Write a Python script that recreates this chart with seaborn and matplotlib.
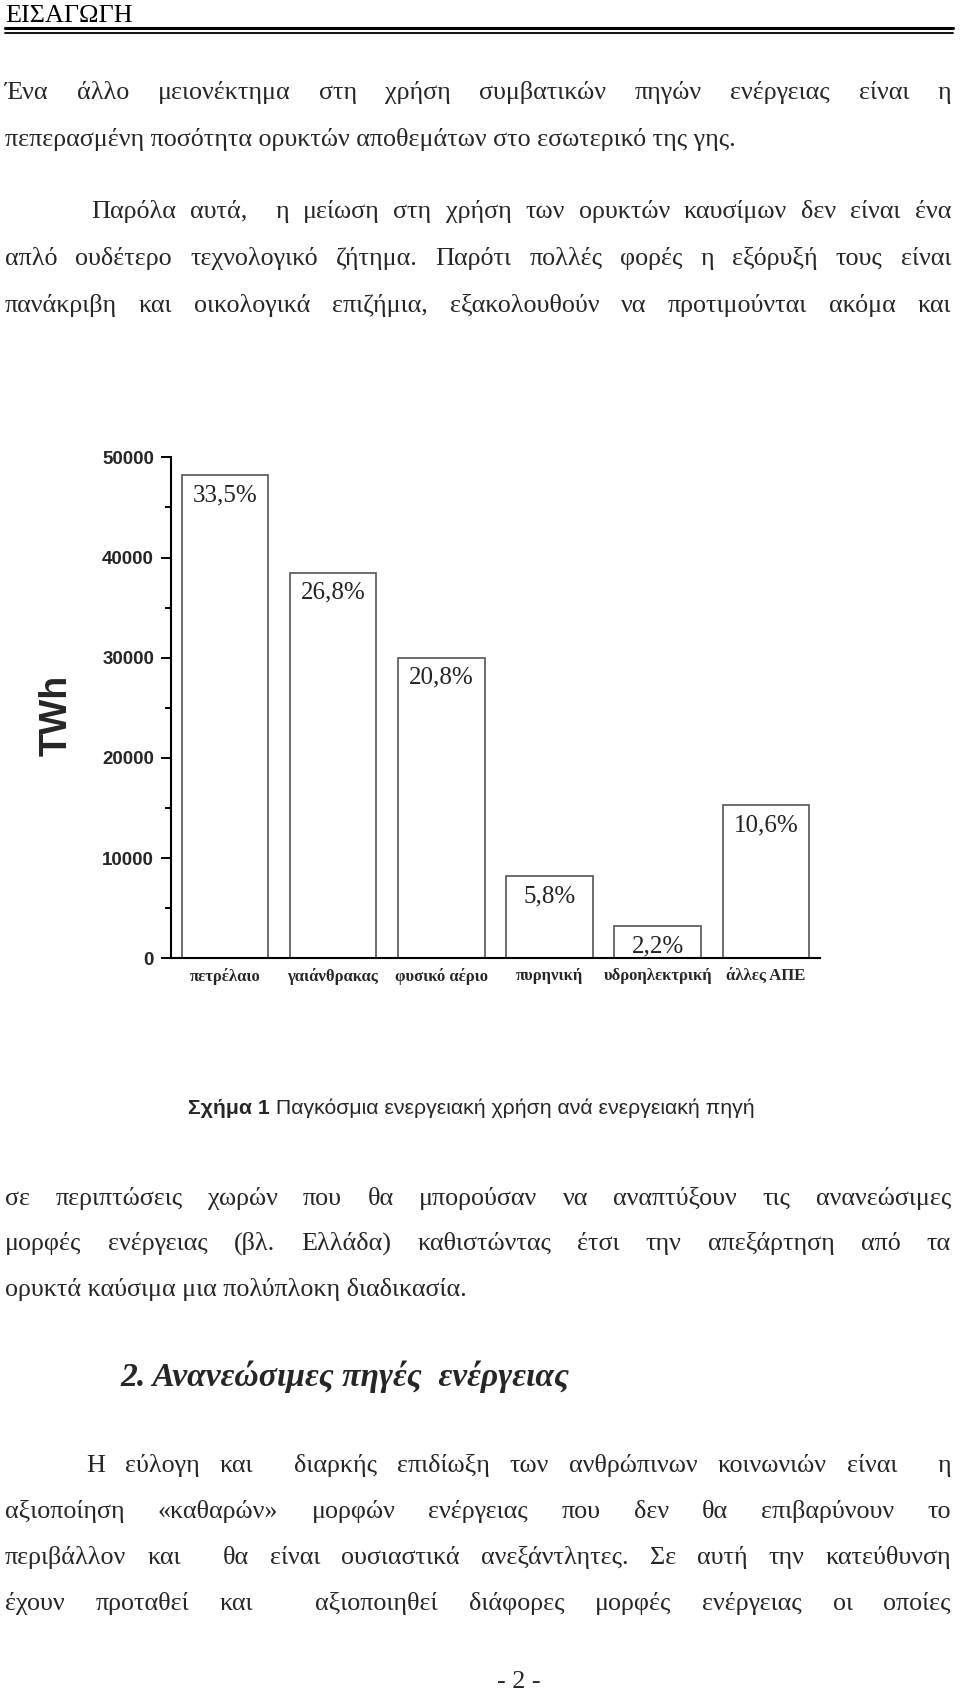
import matplotlib
matplotlib.use('Agg')
import matplotlib.pyplot as plt
import seaborn as sns
from matplotlib import font_manager
from matplotlib.lines import Line2D
from matplotlib.ticker import MultipleLocator

# chart data
sources = ['πετρέλαιο', 'γαιάνθρακας', 'φυσικό αέριο', 'πυρηνική', 'υδροηλεκτρική', 'άλλες ΑΠΕ']
twh = [48200, 38500, 30000, 8200, 3200, 15300]
shares = ['33,5%', '26,8%', '20,8%', '5,8%', '2,2%', '10,6%']
y_ticks = [0, 10000, 20000, 30000, 40000, 50000]

# page text
header = 'ΕΙΣΑΓΩΓΗ'
lines_top = [
    'Ένα άλλο μειονέκτημα στη χρήση συμβατικών πηγών ενέργειας είναι η',
    'πεπερασμένη ποσότητα ορυκτών αποθεμάτων στο εσωτερικό της γης.',
    'Παρόλα αυτά,  η μείωση στη χρήση των ορυκτών καυσίμων δεν είναι ένα',
    'απλό ουδέτερο τεχνολογικό ζήτημα. Παρότι πολλές φορές η εξόρυξή τους είναι',
    'πανάκριβη και οικολογικά επιζήμια, εξακολουθούν να προτιμούνται ακόμα και',
]
caption_bold = 'Σχήμα 1'
caption_rest = ' Παγκόσμια ενεργειακή χρήση ανά ενεργειακή πηγή'
lines_mid = [
    'σε περιπτώσεις χωρών που θα μπορούσαν να αναπτύξουν τις ανανεώσιμες',
    'μορφές ενέργειας (βλ. Ελλάδα) καθιστώντας έτσι την απεξάρτηση από τα',
    'ορυκτά καύσιμα μια πολύπλοκη διαδικασία.',
]
heading = '2. Ανανεώσιμες πηγές  ενέργειας'
lines_bottom = [
    'Η εύλογη και  διαρκής επιδίωξη των ανθρώπινων κοινωνιών είναι  η',
    'αξιοποίηση «καθαρών» μορφών ενέργειας που δεν θα επιβαρύνουν το',
    'περιβάλλον και  θα είναι ουσιαστικά ανεξάντλητες. Σε αυτή την κατεύθυνση',
    'έχουν προταθεί και  αξιοποιηθεί διάφορες μορφές ενέργειας οι οποίες',
]
page_no = '- 2 -'

W, H = 960, 1691
sns.set_theme(style='ticks')
plt.rcParams['font.family'] = ['Liberation Serif', 'DejaVu Serif']

fig = plt.figure(figsize=(W / 100, H / 100), dpi=100)
fig.patch.set_facecolor('white')
renderer = fig.canvas.get_renderer()

names = {f.name for f in font_manager.fontManager.ttflist}
narrow = 'Liberation Sans Narrow' if 'Liberation Sans Narrow' in names else 'Liberation Sans'


def width_of(text, **kw):
    t = fig.text(0, 0, text, **kw)
    w = t.get_window_extent(renderer).width
    t.remove()
    return w


def put(text, x, yc, size, **kw):
    # yc = middle of x-height in page pixels
    y = yc + 0.23 * size * 100 / 72
    return fig.text(x / W, 1 - y / H, text, fontsize=size, va='baseline', **kw)


def put_justified(text, x0, x1, yc, size, **kw):
    words = text.split(' ')
    widths = [width_of(w, fontsize=size, **kw) if w else 0 for w in words]
    gap = (x1 - x0 - sum(widths)) / (len(words) - 1)
    x = x0
    for w, wd in zip(words, widths):
        if w:
            put(w, x, yc, size, **kw)
        x += wd + gap


# fit body size so that the unjustified line has its real width
body = 17 * 731 / width_of(lines_top[1], fontsize=17)
X0, X1 = 5, 951

fig.text(5 / W, 1 - 22 / H, header, fontsize=body, va='baseline', color='black')
fig.add_artist(Line2D([5 / W, 953 / W], [1 - 28 / H, 1 - 28 / H], color='black', lw=2.2))
fig.add_artist(Line2D([5 / W, 953 / W], [1 - 32.5 / H, 1 - 32.5 / H], color='black', lw=1.3))

top_y = [93, 139.5, 211.5, 259, 306]
put_justified(lines_top[0], X0, X1, top_y[0], body)
put(lines_top[1], X0, top_y[1], body)
put_justified(lines_top[2], 91, X1, top_y[2], body)
put_justified(lines_top[3], X0, X1, top_y[3], body)
put_justified(lines_top[4], X0, X1, top_y[4], body)

# caption
cap = 16 * 565 / (width_of(caption_bold, fontsize=16, family=narrow, fontweight='bold')
                  + width_of(caption_rest, fontsize=16, family=narrow))
wb = width_of(caption_bold, fontsize=cap, family=narrow, fontweight='bold')
put(caption_bold, 188, 1109, cap, family=narrow, fontweight='bold')
put(caption_rest, 188 + wb, 1109, cap, family=narrow)

mid_y = [1199, 1244, 1290]
put_justified(lines_mid[0], X0, X1, mid_y[0], body)
put_justified(lines_mid[1], X0, X1, mid_y[1], body)
put(lines_mid[2], X0, mid_y[2], body)

hs = 22 * 448 / width_of(heading, fontsize=22, fontweight='bold', style='italic')
put(heading, 120, 1378, hs, fontweight='bold', style='italic')

bot_y = [1466, 1512, 1558, 1604]
put_justified(lines_bottom[0], 86, X1, bot_y[0], body)
for txt, yc in zip(lines_bottom[1:], bot_y[1:]):
    put_justified(txt, X0, X1, yc, body)

put(page_no, 497, 1682, body)

# bar chart
ax = fig.add_axes([170.7 / W, 1 - 958.3 / H, (820 - 170.7) / W, (958.3 - 457.3) / H])
sns.barplot(x=sources, y=twh, color='white', edgecolor='#555555', linewidth=1.2,
            width=0.8, errorbar=None, ax=ax)
ax.set_xlim(-0.5, 5.5)
ax.set_ylim(0, 50000)
sns.despine(ax=ax)
for side in ['left', 'bottom']:
    ax.spines[side].set_color('black')
    ax.spines[side].set_linewidth(1.5)

ax.set_yticks(y_ticks)
ax.set_yticklabels([str(v) for v in y_ticks], fontsize=13.5, fontweight='bold',
                   family='Liberation Sans')
ax.yaxis.set_minor_locator(MultipleLocator(5000))
ax.tick_params(axis='y', which='major', length=7, width=1.4, direction='out', pad=5, color='black')
ax.tick_params(axis='y', which='minor', length=4.3, width=1.4, direction='out', color='black')
ax.set_xticks(range(len(sources)))
ax.set_xticklabels(sources, fontsize=12, fontweight='bold', family='Liberation Serif')
ax.tick_params(axis='x', length=0, pad=7)
ax.set_xlabel('')
ax.set_ylabel('TWh', fontsize=27, fontweight='bold', family='Liberation Sans')
ax.yaxis.set_label_coords(-0.148, 0.484)

for patch, share in zip(ax.patches, shares):
    ax.annotate(share, (patch.get_x() + patch.get_width() / 2, patch.get_height()),
                xytext=(0, -14.5), textcoords='offset points', ha='center', va='center',
                fontsize=18, family='Liberation Serif', color='#222222')

fig.savefig('out.png', dpi=100, facecolor='white')
